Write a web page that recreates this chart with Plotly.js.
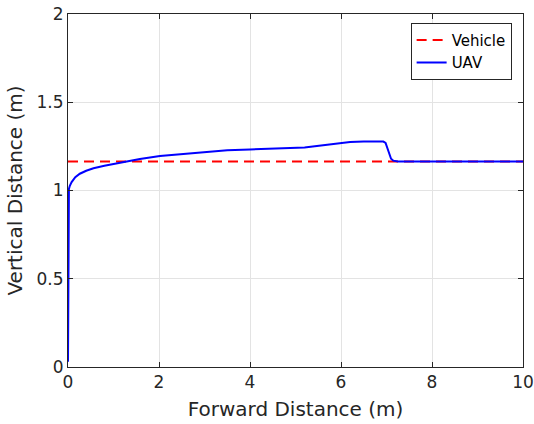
<!DOCTYPE html>
<html>
<head>
<meta charset="utf-8">
<script src="https://cdn.plot.ly/plotly-3.0.1.min.js"></script>
<style>html,body{margin:0;padding:0;background:#fff;}#chart{width:534px;height:424px;}</style>
</head>
<body>
<div id="chart"></div>
<script>
const vehicleX = [0, 10];
const vehicleY = [1.165, 1.165];
const uavX = [0.0, 0.005, 0.01, 0.015, 0.02, 0.04, 0.08, 0.16, 0.26, 0.4, 0.56, 0.8, 1.14, 1.58, 2.02, 2.5, 3.05, 3.5, 4.0, 4.5, 4.95, 5.2, 5.47, 5.75, 5.98, 6.2, 6.5, 6.93, 6.98, 7.04, 7.1, 7.15, 7.25, 8, 9, 10];
const uavY = [0.03, 0.3, 0.7, 0.99, 1.008, 1.027, 1.048, 1.075, 1.095, 1.112, 1.126, 1.14, 1.158, 1.178, 1.195, 1.207, 1.220, 1.228, 1.233, 1.236, 1.239, 1.244, 1.252, 1.260, 1.267, 1.275, 1.277, 1.277, 1.27, 1.229, 1.18, 1.169, 1.165, 1.165, 1.165, 1.165];
const xTicks = [0, 2, 4, 6, 8, 10];
const yTicks = [0, 0.5, 1, 1.5, 2];
const yTickText = ['0', '0.5', '1', '1.5', '2'];

const font = 'DejaVu Sans, sans-serif';
const traces = [
  {x: vehicleX, y: vehicleY, mode: 'lines', name: 'Vehicle',
   line: {color: '#ff0000', width: 2, dash: '10px,6px'}},
  {x: uavX, y: uavY, mode: 'lines', name: 'UAV',
   line: {color: '#0000ff', width: 2}}
];
const axisCommon = {
  showline: true, mirror: 'ticks', linecolor: '#262626', linewidth: 1,
  ticks: 'inside', ticklen: 5, tickcolor: '#262626',
  showgrid: true, gridcolor: '#e3e3e3', gridwidth: 1, zeroline: false,
  tickfont: {family: font, size: 17, color: '#262626'}
};
const layout = {
  width: 534, height: 424,
  margin: {l: 68, r: 11, t: 14, b: 57},
  paper_bgcolor: '#ffffff', plot_bgcolor: '#ffffff',
  showlegend: true,
  legend: {x: 0.975, y: 0.975, xanchor: 'right', yanchor: 'top',
    bgcolor: '#ffffff', bordercolor: '#262626', borderwidth: 1,
    font: {family: font, size: 15, color: '#000000'}, tracegroupgap: 0, itemwidth: 30},
  xaxis: Object.assign({}, axisCommon, {
    range: [0, 10], tickvals: xTicks, ticktext: xTicks.map(String),
    title: {text: 'Forward Distance (m)', font: {family: font, size: 20, color: '#262626'}, standoff: 10}
  }),
  yaxis: Object.assign({}, axisCommon, {
    range: [0, 2], tickvals: yTicks, ticktext: yTickText,
    title: {text: 'Vertical Distance (m)', font: {family: font, size: 20, color: '#262626'}, standoff: 8}
  })
};
Plotly.newPlot('chart', traces, layout, {displayModeBar: false, staticPlot: true});
</script>
</body>
</html>
